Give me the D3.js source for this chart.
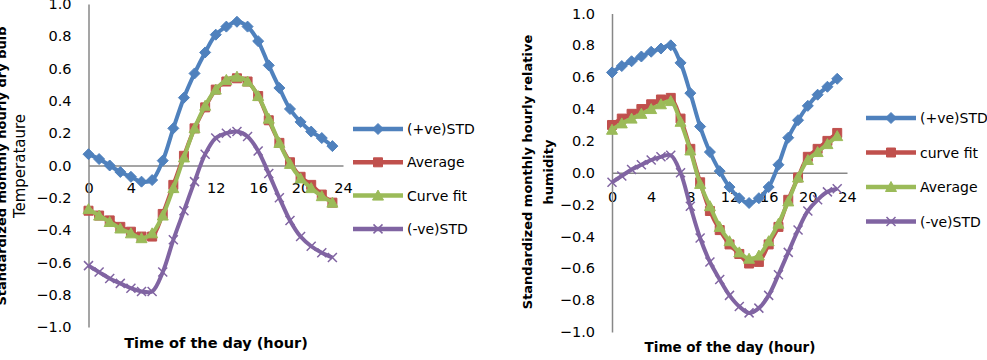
<!DOCTYPE html>
<html>
<head>
<meta charset="utf-8">
<script src="https://cdn.jsdelivr.net/npm/d3@7"></script>
<style>
  body { margin: 0; background: #fff; }
  svg { display: block; }
  text { font-family: "DejaVu Sans", sans-serif; fill: #000; }
</style>
</head>
<body>
<svg width="987" height="360"></svg>
<script>
let hours = [0, 1, 2, 3, 4, 5, 6, 7, 8, 9, 10, 11, 12, 13, 14, 15, 16, 17, 18, 19, 20, 21, 22, 23];
let xTicks = [0, 4, 8, 12, 16, 20, 24];
let yTicks = [-1.0, -0.8, -0.6, -0.4, -0.2, 0.0, 0.2, 0.4, 0.6, 0.8, 1.0];

// left chart: dry bulb temperature
let tempPlusStd = [0.07, 0.04, 0.00, -0.04, -0.07, -0.10, -0.09, 0.03, 0.23, 0.42, 0.57, 0.70, 0.81, 0.86, 0.89, 0.86, 0.77, 0.62, 0.48, 0.35, 0.27, 0.21, 0.17, 0.12];
let tempAverage = [-0.28, -0.31, -0.34, -0.38, -0.41, -0.44, -0.44, -0.30, -0.12, 0.06, 0.23, 0.36, 0.47, 0.52, 0.54, 0.52, 0.43, 0.28, 0.14, 0.02, -0.07, -0.12, -0.18, -0.23];
let tempCurveFit = [-0.27, -0.31, -0.35, -0.39, -0.42, -0.45, -0.42, -0.31, -0.14, 0.05, 0.23, 0.37, 0.47, 0.53, 0.55, 0.52, 0.43, 0.29, 0.14, 0.01, -0.08, -0.14, -0.19, -0.23];
let tempMinusStd = [-0.62, -0.66, -0.70, -0.73, -0.76, -0.78, -0.78, -0.66, -0.46, -0.28, -0.10, 0.07, 0.17, 0.20, 0.21, 0.18, 0.09, -0.05, -0.20, -0.34, -0.44, -0.50, -0.54, -0.57];

// right chart: relative humidity
let rhPlusStd = [0.63, 0.67, 0.70, 0.73, 0.76, 0.78, 0.80, 0.69, 0.50, 0.29, 0.13, 0.01, -0.09, -0.16, -0.19, -0.16, -0.09, 0.05, 0.22, 0.33, 0.42, 0.49, 0.54, 0.59];
let rhCurveFit = [0.30, 0.34, 0.37, 0.40, 0.43, 0.46, 0.47, 0.34, 0.15, -0.06, -0.24, -0.36, -0.45, -0.51, -0.57, -0.56, -0.45, -0.34, -0.17, -0.03, 0.10, 0.15, 0.20, 0.25];
let rhAverage = [0.27, 0.31, 0.34, 0.37, 0.40, 0.43, 0.45, 0.32, 0.14, -0.07, -0.21, -0.34, -0.43, -0.50, -0.54, -0.52, -0.43, -0.32, -0.18, -0.03, 0.08, 0.13, 0.18, 0.23];
let rhMinusStd = [-0.06, -0.02, 0.02, 0.05, 0.08, 0.10, 0.11, 0.00, -0.21, -0.41, -0.56, -0.67, -0.77, -0.84, -0.88, -0.85, -0.77, -0.64, -0.50, -0.36, -0.24, -0.17, -0.12, -0.10];

const blue = '#4F81BD', red = '#C0504D', green = '#9BBB59', purple = '#8064A2';

// marker shapes, drawn around 0,0
const markers = {
  diamond: 'M0,-5.5L5.5,0L0,5.5L-5.5,0Z',
  square: 'M-4.5,-4.5H4.5V4.5H-4.5Z',
  triangle: 'M0,-5.5L5.5,4.5H-5.5Z',
  cross: 'M-4.5,-4.5L4.5,4.5M-4.5,4.5L4.5,-4.5'
};

let svg = d3.select('svg');

function drawPanel(opt) {
  const xScale = d3.scaleLinear().domain([0, 24]).range(opt.xRange);
  const yScale = d3.scaleLinear().domain([-1, 1]).range(opt.yRange);
  const g = svg.append('g');

  // x axis sits on the zero line
  const xAxis = g.append('g')
    .attr('transform', `translate(0, ${yScale(0)})`)
    .call(d3.axisBottom(xScale).tickValues(xTicks).tickSize(0).tickSizeOuter(0).tickPadding(opt.xPad));
  const yAxis = g.append('g')
    .attr('transform', `translate(${xScale(0)}, 0)`)
    .call(d3.axisLeft(yScale).tickValues(yTicks).tickSize(0).tickSizeOuter(0).tickPadding(17)
      .tickFormat(d3.format('.1f')));

  [xAxis, yAxis].forEach(a => {
    a.select('.domain').attr('stroke', '#878787').attr('stroke-width', 1.5);
    a.selectAll('text').attr('font-size', 14.5).attr('font-family', '"DejaVu Sans", sans-serif').attr('fill', '#000');
  });

  const line = d3.line()
    .x((d, i) => xScale(hours[i]))
    .y(d => yScale(d))
    .curve(d3.curveCatmullRom);

  opt.series.forEach(s => {
    g.append('path')
      .attr('d', line(s.values))
      .attr('fill', 'none')
      .attr('stroke', s.color)
      .attr('stroke-width', 4);

    g.selectAll(null)
      .data(s.values)
      .enter()
      .append('path')
      .attr('transform', (d, i) => `translate(${xScale(hours[i])}, ${yScale(d)})`)
      .attr('d', markers[s.marker])
      .attr('fill', s.marker === 'cross' ? 'none' : s.color)
      .attr('stroke', s.color)
      .attr('stroke-width', s.marker === 'cross' ? 1.5 : 1);
  });

  // legend
  opt.series.forEach((s, i) => {
    const y = opt.legendY + i * opt.legendStep;
    const x0 = opt.legendX;
    g.append('line')
      .attr('x1', x0).attr('x2', x0 + 50)
      .attr('y1', y).attr('y2', y)
      .attr('stroke', s.color)
      .attr('stroke-width', 4.5);
    g.append('path')
      .attr('transform', `translate(${x0 + 25}, ${y})`)
      .attr('d', markers[s.marker])
      .attr('fill', s.marker === 'cross' ? 'none' : s.color)
      .attr('stroke', s.color)
      .attr('stroke-width', s.marker === 'cross' ? 1.5 : 1);
    g.append('text')
      .attr('x', x0 + 54)
      .attr('y', y)
      .attr('dy', '0.36em')
      .attr('font-size', 14)
      .text(s.name);
  });

  // x title
  g.append('text')
    .attr('x', opt.xTitleX)
    .attr('y', opt.xTitleY)
    .attr('text-anchor', 'middle')
    .attr('font-weight', 'bold')
    .attr('font-size', opt.xTitleSize)
    .text('Time of the day (hour)');

  // y title, two lines
  opt.yTitle.forEach(t => {
    g.append('text')
      .attr('transform', `translate(${t.x}, ${t.y}) rotate(-90)`)
      .attr('text-anchor', 'middle')
      .attr('dominant-baseline', 'central')
      .attr('font-weight', t.weight)
      .attr('font-size', t.size)
      .attr('font-family', t.font)
      .text(t.text);
  });
}

drawPanel({
  xRange: [88.5, 343],
  yRange: [327, 4],
  xPad: 17,
  series: [
    {name: '(+ve)STD', values: tempPlusStd, color: blue, marker: 'diamond'},
    {name: 'Average', values: tempAverage, color: red, marker: 'square'},
    {name: 'Curve fit', values: tempCurveFit, color: green, marker: 'triangle'},
    {name: '(-ve)STD', values: tempMinusStd, color: purple, marker: 'cross'}
  ],
  legendX: 353,
  legendY: 129,
  legendStep: 33.3,
  xTitleX: 216,
  xTitleY: 348,
  xTitleSize: 14.5,
  yTitle: [
    {text: 'Standardized monthly hourly dry bulb', x: 1, y: 166, weight: 'bold', size: 13, font: '"DejaVu Sans", sans-serif'},
    {text: 'Temperataure', x: 20, y: 166, weight: 'normal', size: 15, font: '"Liberation Sans", Arial, sans-serif'}
  ]
});

drawPanel({
  xRange: [612, 847],
  yRange: [332, 13.5],
  xPad: 18.5,
  series: [
    {name: '(+ve)STD', values: rhPlusStd, color: blue, marker: 'diamond'},
    {name: 'curve fit', values: rhCurveFit, color: red, marker: 'square'},
    {name: 'Average', values: rhAverage, color: green, marker: 'triangle'},
    {name: '(-ve)STD', values: rhMinusStd, color: purple, marker: 'cross'}
  ],
  legendX: 866,
  legendY: 118,
  legendStep: 34.5,
  xTitleX: 730,
  xTitleY: 352,
  xTitleSize: 13.5,
  yTitle: [
    {text: 'Standardized monthly hourly relative', x: 527, y: 172, weight: 'bold', size: 13, font: '"DejaVu Sans", sans-serif'},
    {text: 'humidity', x: 548, y: 172, weight: 'bold', size: 13, font: '"DejaVu Sans", sans-serif'}
  ]
});
</script>
</body>
</html>
